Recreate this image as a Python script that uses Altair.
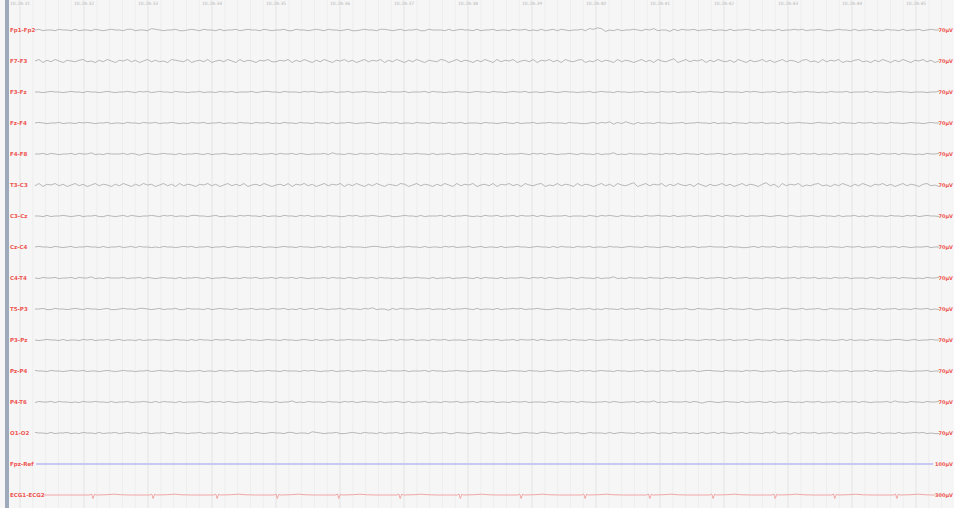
import altair as alt
import pandas as pd

# ---- montage rows (transverse montage + aux channels) ----
CHANNELS = ["Fp1-Fp2", "F7-F3", "F3-Fz", "Fz-F4", "F4-F8", "T3-C3", "C3-Cz",
            "Cz-C4", "C4-T4", "T5-P3", "P3-Pz", "Pz-P4", "P4-T6", "O1-O2"]
SENSITIVITY = ["70µV"] * 14
AUX_NAMES = ["Fpz-Ref", "ECG1-ECG2"]
AUX_SENS = ["100µV", "300µV"]

# EEG samples, one digit per sample, 4 = baseline (spaces only group the digits)
EEG = [
    "4534435443 5344354345 4435534436 5434453345 4354435344 5345443543 4453354434 5435443453 3454435543 4534453354 4435345443 5344534435 4453435345 3543445365 7624353445 4354634425 3544534453 4435344543 5344353445 4534454334 5443534453 4354435344 534544",
    "4625364254 3563425364 2546352463 5342654362 4536245364 2635425463 3546253642 5364254635 2463546253 6425364254 3652463542 5364263546 2453625463 5264356243 6354263542 4635264357 2463546253 6435264253 4635246354 2563426354 6243563425 3642536425 463524",
    "4434544345 4435443454 3445435453 4544354434 4534435445 3444534554 4354443545 4344534453 4454434354 4453444535 4434454434 5443544345 4453443454 3454434453 4544354434 4534435445 3444534454 4354443545 4344534453 4454434354 4453444535 4434454434 443445",
    "4543445344 3545434453 4435443544 5344543435 4453445344 3544354453 4354435443 5443534454 3445434544 5344354435 4435445344 4354434543 5344534454 4435443345 3546253642 5344354434 4534454435 3443544354 4534435344 5443454435 3544354453 4435443454 434544",
    "4453543445 3544634354 4453542454 3454435344 5435344543 4354453445 3544535434 4453644354 3544535443 4354454435 3445344543 5354435344 4543545354 3445435443 5344634354 4435443545 3454435344 5435344534 4354453445 3544534435 4453444354 3544535443 435445",
    "3625463524 6352463542 5364253645 2463526354 2546352463 5362453642 4536254635 2463546253 6425364254 3652463542 5364263546 2453625463 5264356243 6354263542 4635264357 2463546253 6435264253 4635246354 2573516354 6243563425 3642536425 4635246354 256342",
    "4435344543 4534453354 3453543445 4354534435 5443453344 3545443534 4354435453 4435443354 5344543453 3454435344 4535344543 4354453445 3544535434 4453444354 3545435443 4354454435 3445344543 5354435344 4543454354 3445435443 5344534354 4435443545 345443",
    "4544354345 3445443534 4534535443 4354434545 3445344534 5443545344 3454435443 4535344354 4434554345 3445443534 4354534453 4534435344 5443454435 3544354453 4435443454 4354434543 5344534454 4435443345 3544534435 4453444354 4354453445 3544535434 445344",
    "4354453445 3544634354 4453445354 3454435344 5435344543 4354453445 3544535434 4453544354 3544535443 4354454435 3445344543 5354435344 4543545354 3445435443 5344634354 4435443545 3454435344 5435344534 4354453445 3544534435 4453444354 3544535443 435445",
    "4453354434 5435443453 3454435543 4534453354 4435345443 5344534435 4453435345 3543445354 4354634425 3544534453 4435344543 5344353445 4534454334 5443534453 4354435344 5345443543 4453354434 5435443453 3454435543 4534453354 4435345443 5344534435 445343",
    "4345443534 4354534453 4534435344 5443454435 3544354453 4435443454 4354434543 5344534454 4435443345 3544534435 4453444354 4354453445 3544535434 4453544354 3445443534 4534535443 4354434545 3445344534 5443545344 3454435443 4535344354 4434554345 344544",
    "5443544345 4453443454 3454434453 4544354434 4534435445 3444534454 4354443545 4344534453 4454434354 4453444535 4434454434 4434544345 4435443454 3445435453 4544354434 4534435445 3444534554 4354443545 4344534453 4454434354 4453444535 4434454434 445344",
    "3544535443 4354454435 3445344543 5354435344 4543545354 3445435443 5344634354 4435443545 3454435344 5435344534 4354453445 3544534435 4453444354 3544535443 4453543445 3544634354 4453542454 3454435344 5435344543 4354453445 3544535434 4453644354 435445",
    "5443534453 4354435344 5345443543 4453354434 4534435443 5344354345 4435534436 5434453345 4354435344 5345443543 4453354434 5435443453 3454435543 4534453354 4435345443 5344534435 4453435345 3543445354 4354634425 3544534453 4435344543 5344353445 453433",
]
# display gain per channel, pixels per digit step
GAIN_PX = [0.7, 0.75, 0.6, 0.6, 0.6, 0.75, 0.6, 0.6, 0.6, 0.6, 0.55, 0.55, 0.55, 0.6]

# ECG: beat times (s) and the QRS/T shape around each beat (dt s, px up)
ECG_BEATS = [1.14, 2.08, 3.08, 4.02, 4.98, 5.94, 6.88, 7.83, 8.83, 9.84,
             10.83, 11.80, 12.73, 13.70]
QRS_SHAPE = [(-0.05, 0.0), (-0.02, 1.0), (0.0, -3.5), (0.025, 0.8), (0.05, 0.0),
             (0.22, 0.3), (0.33, 0.8), (0.45, 0.2), (0.6, 0.0)]

# clock labels across the top, one per second
TIME_LABELS = ["10:24:31", "10:24:32", "10:24:33", "10:24:34", "10:24:35",
               "10:24:36", "10:24:37", "10:24:38", "10:24:39", "10:24:40",
               "10:24:41", "10:24:42", "10:24:43", "10:24:44", "10:24:45"]

ROW_PX = 31.0
W, H = 954, 508
X_DOMAIN = [-20 / 64, (W - 20) / 64]          # 64 px per second
Y_DOMAIN = [-30 / ROW_PX, (H - 30) / ROW_PX]  # one unit per trace row
T_START, T_END = 0.234, 14.36

# ---- tables ----
eeg_rows = []
for i, (name, s) in enumerate(zip(CHANNELS, EEG)):
    d = s.replace(" ", "")
    n = len(d)
    for j, c in enumerate(d):
        eeg_rows.append({
            "ch": name,
            "t": T_START + j * (T_END - T_START) / (n - 1),
            "y": i - (int(c) - 4) * GAIN_PX[i] / ROW_PX,
        })
eeg_df = pd.DataFrame(eeg_rows)

flat_df = pd.DataFrame({"t": [0.25, 14.27], "y": [14, 14]})

ecg_pts = [(0.36, 0.0)]
for b in ECG_BEATS:
    for dt, a in QRS_SHAPE:
        ecg_pts.append((b + dt, a))
ecg_pts.append((14.27, 0.0))
ecg_df = pd.DataFrame({"t": [p[0] for p in ecg_pts],
                       "y": [15 - p[1] / ROW_PX for p in ecg_pts]})

left_df = pd.DataFrame({"label": CHANNELS + AUX_NAMES,
                        "row": list(range(16))})
right_df = pd.DataFrame({"label": SENSITIVITY + AUX_SENS,
                         "row": list(range(16))})
time_df = pd.DataFrame({"t": list(range(len(TIME_LABELS))), "label": TIME_LABELS})
major_df = pd.DataFrame({"t": list(range(-1, 16))})
minor_df = pd.DataFrame({"t": [k / 5 for k in range(-2, 75) if k % 5]})

xs = alt.Scale(domain=X_DOMAIN, nice=False, zero=False)
ys = alt.Scale(domain=Y_DOMAIN, nice=False, zero=False, reverse=True)
X = lambda f: alt.X(f, type="quantitative", scale=xs, axis=None)
Y = lambda f: alt.Y(f, type="quantitative", scale=ys, axis=None)

minor = alt.Chart(minor_df).mark_rule(color="#eeeeee", strokeWidth=1).encode(
    x=X("t"), y=alt.value(0), y2=alt.value(H))
major = alt.Chart(major_df).mark_rule(color="#e4e4e4", strokeWidth=1).encode(
    x=X("t"), y=alt.value(0), y2=alt.value(H))
side_bar = alt.Chart(time_df).mark_rule(color="#9eaabb", strokeWidth=3).encode(
    x=alt.value(7), y=alt.value(0), y2=alt.value(H))

eeg = alt.Chart(eeg_df).mark_line(color="#9c9c9c", strokeWidth=0.7).encode(
    x=X("t"), y=Y("y"), detail="ch:N")
flat = alt.Chart(flat_df).mark_line(color="#c8c8f3", strokeWidth=2).encode(
    x=X("t"), y=Y("y"))
ecg = alt.Chart(ecg_df).mark_line(color="#f2a6a6", strokeWidth=1).encode(
    x=X("t"), y=Y("y"))

left = alt.Chart(left_df).mark_text(
    align="left", baseline="middle", fontSize=5.5, fontWeight="bold",
    color="#ee5550", font="DejaVu Sans").encode(
    x=alt.value(10), y=Y("row"), text="label:N")
right = alt.Chart(right_df).mark_text(
    align="right", baseline="middle", fontSize=5, fontWeight="bold",
    color="#ee5550", font="DejaVu Sans").encode(
    x=alt.value(953), y=Y("row"), text="label:N")
clock = alt.Chart(time_df).mark_text(
    align="center", baseline="middle", fontSize=4.5, color="#b8b8b8",
    font="DejaVu Sans").encode(
    x=X("t"), y=alt.value(4), text="label:N")

chart = alt.layer(minor, major, side_bar, eeg, flat, ecg, left, right, clock).properties(
    width=W, height=H, padding=0,
    autosize=alt.AutoSizeParams(type="none"),
    background="#f6f6f6",
).configure_view(stroke=None)

chart.save("out.html", embed_options={"renderer": "svg", "actions": False})
